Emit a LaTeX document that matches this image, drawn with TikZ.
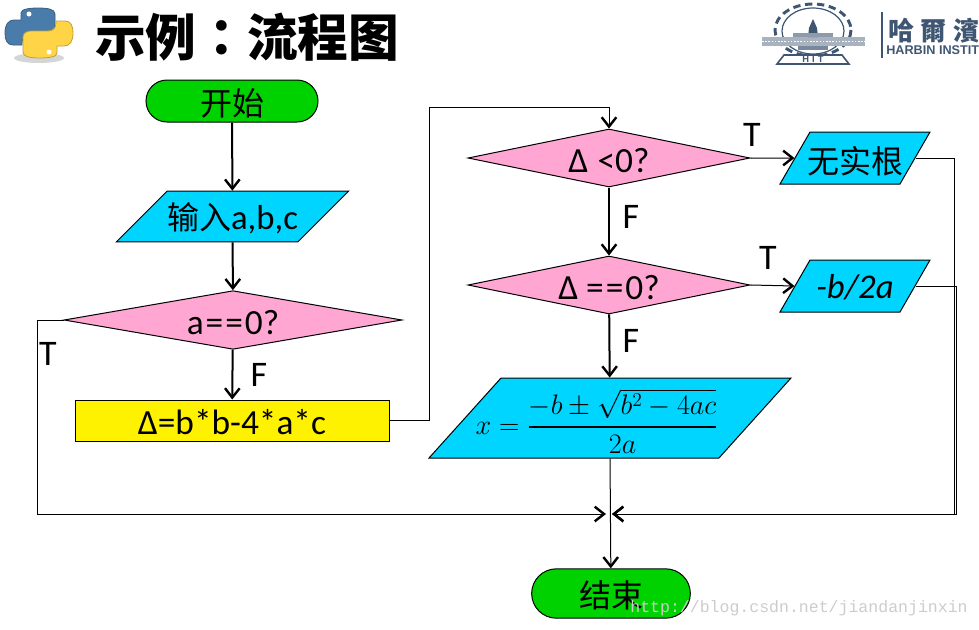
\documentclass[tikz,border=0pt]{standalone}
\usepackage{amsmath}
\usepackage{fontspec}
\setmainfont{Carlito}
\newfontfamily\cjk{Noto Sans CJK SC}
\newfontfamily\cjktc{Noto Sans CJK TC}
\newfontfamily\hitfont{Liberation Sans}
\newfontfamily\markfont{Liberation Mono}
\usetikzlibrary{shapes.geometric, shapes.misc, arrows.meta}
\definecolor{termgreen}{HTML}{00D200}
\definecolor{iocyan}{HTML}{00D5FF}
\definecolor{decpink}{HTML}{FFA6D2}
\definecolor{hitblue}{HTML}{3F5673}
\definecolor{pyblue}{HTML}{4A7CAB}
\definecolor{pyyellow}{HTML}{FFD547}

\begin{document}
\begin{tikzpicture}[
		x=0.75pt, y=-0.75pt,
		% Style of the flowchart blocks
		terminal/.style={
			rounded rectangle,
			fill=termgreen,
			draw=black,
			line width=0.75pt,
			inner sep=0pt,
			text height=24pt,
			text depth=3pt,
			font=\fontsize{24}{27}\selectfont\cjk,
		},
		iobox/.style={
			trapezium,
			trapezium stretches body=true,
			trapezium left angle=#1,
			trapezium right angle=180-#1,
			fill=iocyan,
			draw=black,
			line width=0.75pt,
			inner sep=0pt,
			font=\fontsize{26}{29}\selectfont,
		},
		decision/.style={
			diamond,
			shape aspect=5,
			fill=decpink,
			draw=black,
			line width=0.75pt,
			inner sep=0pt,
			text height=22pt,
			text depth=0.5pt,
			font=\fontsize{26.5}{29}\selectfont,
		},
		process/.style={
			rectangle,
			fill=yellow,
			draw=black,
			line width=0.75pt,
			inner sep=0pt,
			text height=22pt,
			text depth=0.5pt,
			font=\fontsize{26.5}{29}\selectfont,
		},
		% Style of the connectors
		flow/.style={
			line width=1.5pt,
			-{Straight Barb[line width=1.8pt, length=7pt, width=11pt]}
		},
		thinflow/.style={
			line width=0.75pt,
			-{Straight Barb[line width=1.8pt, length=7pt, width=11pt]}
		},
		% Style of the T / F labels
		branch/.style={font=\fontsize{27}{30}\selectfont, text=black}
		]
		\useasboundingbox (0,0) rectangle (979,629);
		
		% --- PYTHON LOGO ---
		\fill[gray!55, opacity=0.6] (39,58) ellipse (25 and 5);
		\path[fill=pyblue, draw=pyblue!75!black, line width=0.6pt] (21,20) -- (21,13)
			.. controls (21,9) and (30,8) .. (38,8)
			.. controls (47,8) and (55,9) .. (55,14) -- (55,29)
			.. controls (55,33) and (51,35) .. (47,35) -- (30,35)
			.. controls (25,35) and (22,38) .. (22,43) -- (22,45) -- (13,45)
			.. controls (7,45) and (5,40) .. (5,33)
			.. controls (5,25) and (8,20) .. (14,20) -- cycle;
		\path[fill=pyyellow, draw=pyyellow!75!black, line width=0.6pt] (57,46) -- (57,53)
			.. controls (57,57) and (48,58) .. (40,58)
			.. controls (31,58) and (23,57) .. (23,52) -- (23,37)
			.. controls (23,33) and (27,31) .. (31,31) -- (48,31)
			.. controls (53,31) and (56,28) .. (56,23) -- (56,21) -- (65,21)
			.. controls (71,21) and (73,26) .. (73,33)
			.. controls (73,41) and (70,46) .. (64,46) -- cycle;
		\fill[white] (29,14) circle (2.5);
		\fill[white] (49,52) circle (2.5);
		
		% --- TITLE ---
		\node[font=\fontsize{38}{41}\selectfont\bfseries] (title) at (247,37) {\cjk 示例{\cjktc ：}流程图};
		
		% --- HIT LOGO ---
		\draw[hitblue, line width=0.9pt] (813,31) ellipse (31 and 23);
		\draw[hitblue, line width=2.2pt, dash pattern=on 5.5pt off 3.5pt] (813,30) ellipse (38 and 26);
		\fill[hitblue!45] (762,37) rectangle (865,46);
		\draw[white, line width=0.4pt, dash pattern=on 1.2pt off 1.2pt] (762,41.5) -- (865,41.5);
		\fill[hitblue] (808,37) -- (809,28) -- (813,19) -- (817,28) -- (818,37) -- cycle;
		\fill[hitblue!60] (793,33) rectangle (833,37);
		\fill[hitblue!70] (798,46) rectangle (828,50);
		\fill[white] (780,54) rectangle (846,64);
		\draw[hitblue, line width=1.2pt] (784,55) -- (842,55) -- (849,64) -- (777,64) -- cycle;
		\node[font=\fontsize{7}{8}\selectfont\hitfont\bfseries, text=hitblue] (hit) at (813,59.5) {H\,\,I\,\,T};
		\fill[hitblue] (880.5,12) rectangle (883,58);
		\node[anchor=west, inner sep=0pt, text=hitblue, font=\fontsize{19.5}{22}\selectfont\cjktc\bfseries] (hitname) at (888,31) {哈\hspace{4.8pt}爾\hspace{4.8pt}濱};
		\node[anchor=west, inner sep=0pt, text=hitblue, font=\fontsize{9.5}{10}\selectfont\hitfont\bfseries] (hiten) at (886,50) {HARBIN INSTIT};
		
		% --- LEFT COLUMN ---
		\node[terminal, minimum width=129pt, minimum height=31.5pt] (start) at (232,101) {开始};
		\node[iobox=45, minimum width=173pt, minimum height=38pt, text height=29pt, text depth=9pt] (input) at (232.5,216.5) {{\fontsize{24}{27}\selectfont\cjk 输入}a,b,c};
		\node[decision, minimum width=253.5pt, minimum height=44pt] (zero) at (233,320) {a\kern1.5pt=\kern1.5pt=\kern1.5pt0?};
		\node[process, minimum width=235.5pt, minimum height=30.75pt] (delta) at (232,420.5) {Δ=b*b-4*a*c};
		
		% --- RIGHT COLUMN ---
		\node[decision, minimum width=211.5pt, minimum height=43.5pt] (neg) at (609,158) {Δ\kern1pt\ <0?};
		\node[decision, minimum width=211.5pt, minimum height=43.5pt] (nul) at (609,285) {Δ =\kern1.5pt=\kern1.5pt0?};
		\node[iobox=48, minimum width=271.5pt, minimum height=60pt, text height=42pt, text depth=18pt] (root) at (610,418) {\makebox[150pt][r]{\huge\scalebox{1.02}{$x=\genfrac{}{}{1.6pt}{0}{-b\pm\sqrt{b^2-4ac}}{2a}$}\hspace{-6pt}}};
		\node[iobox=60, minimum width=112.5pt, minimum height=39pt, text height=30.75pt, text depth=8.25pt] (noroot) at (855,158) {\makebox[60pt]{\fontsize{24}{27}\selectfont\cjk 无实根}};
		\node[iobox=60, minimum width=112.5pt, minimum height=39pt, text height=28.5pt, text depth=10.5pt] (double) at (855,286) {\textit{-b/2a}};
		\node[terminal, minimum width=119pt, minimum height=37pt] (stop) at (611,593.5) {结束};
		
		% --- ROUTING POINTS ---
		\coordinate (mergeL) at (606,514);
		\coordinate (mergeR) at (612,514);
		\coordinate (busL) at (37,514);
		\coordinate (busT) at (429,107);
		\coordinate (busR1) at (954,514);
		\coordinate (busR2) at (956.5,514);
		
		% --- CONNECTORS ---
		\draw[flow] (start) -- (input);
		\draw[flow] (input) -- (zero);
		\draw[flow] (zero) -- (delta);
		\draw[thinflow] (zero.west) -| (busL) -- (mergeL);
		\draw[thinflow] (delta.east) -| (busT) -| (neg.north);
		\draw[thinflow] (neg.east) -- (noroot.west);
		\draw[thinflow] (nul.east) -- (double.west);
		\draw[flow] (neg) -- (nul);
		\draw[flow] (nul) -- (root);
		\draw[thinflow] (root.south) -- (stop);
		\draw[thinflow] (noroot.east) -| (busR1) -- (mergeR);
		\draw[thinflow] (double.east) -| (busR2) -- (mergeR);
		
		% --- BRANCH LABELS ---
		\node[branch] (t1) at (48,354) {T};
		\node[branch] (f1) at (259,375) {F};
		\node[branch] (t2) at (752,135) {T};
		\node[branch] (f2) at (631,217) {F};
		\node[branch] (t3) at (768,258) {T};
		\node[branch] (f3) at (631,341) {F};
		
		% --- WATERMARK ---
		\node[text=gray!40, font=\fontsize{12.4}{14}\selectfont\markfont, inner sep=0pt] (mark) at (799,608) {http://blog.csdn.net/jiandanjinxin};
		
	\end{tikzpicture}
\end{document}
